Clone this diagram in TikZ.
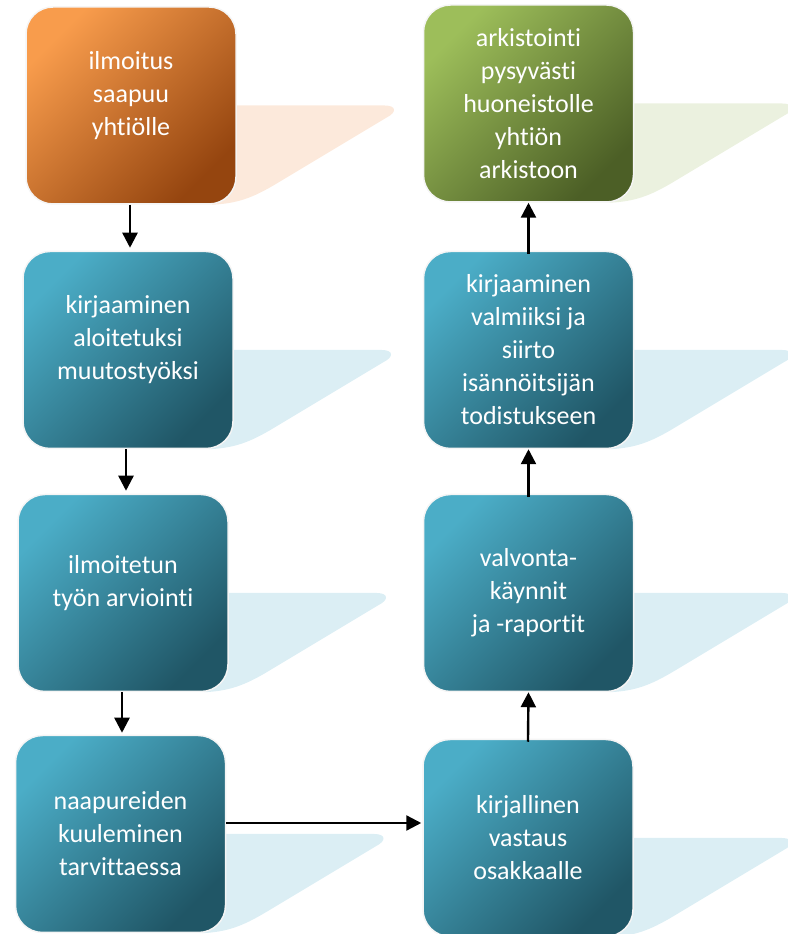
\documentclass[tikz,border=0pt]{standalone}
\usepackage{fontspec}
\setmainfont{Carlito}[RawFeature={-liga;-clig;-calt}]
\usetikzlibrary{arrows.meta,calc,backgrounds}

\definecolor{orangeL}{HTML}{F89C4C}
\definecolor{orangeD}{HTML}{95450F}
\definecolor{orangeT}{HTML}{FCE9DB}
\definecolor{tealL}{HTML}{4BADC7}
\definecolor{tealD}{HTML}{205666}
\definecolor{tealT}{HTML}{DBEEF4}
\definecolor{greenL}{HTML}{9DBE5A}
\definecolor{greenD}{HTML}{4C5F26}
\definecolor{greenT}{HTML}{EBF1DF}

\tikzset{
  stage/.style={rectangle, rounded corners=27pt, minimum width=210pt,
    minimum height=197pt, draw=gray!8, line width=1.5pt, text=white,
    align=center, font=\fontsize{26pt}{33pt}\selectfont},
  tealbox/.style={stage, top color=tealL, bottom color=tealD, shading angle=45},
  orangebox/.style={stage, top color=orangeL, bottom color=orangeD, shading angle=45},
  greenbox/.style={stage, top color=greenL, bottom color=greenD, shading angle=45},
  flow/.style={-{Triangle[length=15pt,width=15pt]}, line width=2.4pt},
}

% pale tail behind a box: #1 node, #2 colour
\newcommand{\boxtail}[2]{%
  \fill[#2] ($(#1.east)+(-20,0)$) -- ($(#1.east)+(148,0)$)
    .. controls ($(#1.east)+(160,0)$) and ($(#1.east)+(160,-7)$) .. ($(#1.east)+(150,-12)$)
    -- ($(#1.east)+(40,-78)$)
    .. controls ($(#1.east)+(15,-93)$) and ($(#1.east)+(0,-98)$) .. ($(#1.south east)+(-25,0)$)
    -- cycle;}

\begin{document}
\begin{tikzpicture}[x=1pt,y=1pt]
  \useasboundingbox (0,0) rectangle (787,934);
  % Left column
  \node[orangebox] (n1) at (131,828.5) {ilmoitus\\saapuu\\yhtiölle\\[-8pt]};
  \node[tealbox] (n2) at (128,584) {kirjaaminen\\aloitetuksi\\muutostyöksi\\[-8pt]};
  \node[tealbox] (n3) at (123,341) {ilmoitetun\\työn arviointi\\[-8pt]};
  \node[tealbox] (n4) at (120.5,100) {naapureiden\\kuuleminen\\tarvittaessa};
  % Right column
  \node[greenbox] (r1) at (528.5,830.5) {arkistointi\\pysyvästi\\huoneistolle\\yhtiön\\arkistoon};
  \node[tealbox] (r2) at (528.5,584) {kirjaaminen\\valmiiksi ja\\siirto\\isännöitsijän\\todistukseen};
  \node[tealbox] (r3) at (528.5,341) {valvonta-\\käynnit\\ja -raportit};
  \node[tealbox] (r4) at (528,96) {kirjallinen\\vastaus\\osakkaalle};
  % Tails
  \begin{scope}[on background layer]
    \boxtail{n1}{orangeT}
    \boxtail{n2}{tealT}
    \boxtail{n3}{tealT}
    \boxtail{n4}{tealT}
    \boxtail{r1}{greenT}
    \boxtail{r2}{tealT}
    \boxtail{r3}{tealT}
    \boxtail{r4}{tealT}
  \end{scope}
  % Arrows
  \coordinate (a1) at ($(n1.south)+(-1,0)$);
  \coordinate (a2) at ($(n2.south)+(-2,0)$);
  \coordinate (a3) at ($(n3.south)+(-1,0)$);
  \coordinate (hstart) at ($(n4.east)+(0,11)$);
  \draw[flow, shorten >=3pt] (a1) -- (a1 |- n2.north);
  \draw[flow, shorten >=3pt] (a2) -- (a2 |- n3.north);
  \draw[flow, shorten >=2pt] (a3) -- (a3 |- n4.north);
  \draw[flow, shorten >=1pt] (hstart) -- (hstart -| r4.west);
  \draw[flow, shorten <=-3pt] (r4.north) -- (r3.south);
  \draw[flow, shorten <=-3pt] (r3.north) -- (r2.south);
  \draw[flow, shorten <=-3pt] (r2.north) -- (r1.south);
\end{tikzpicture}
\end{document}
